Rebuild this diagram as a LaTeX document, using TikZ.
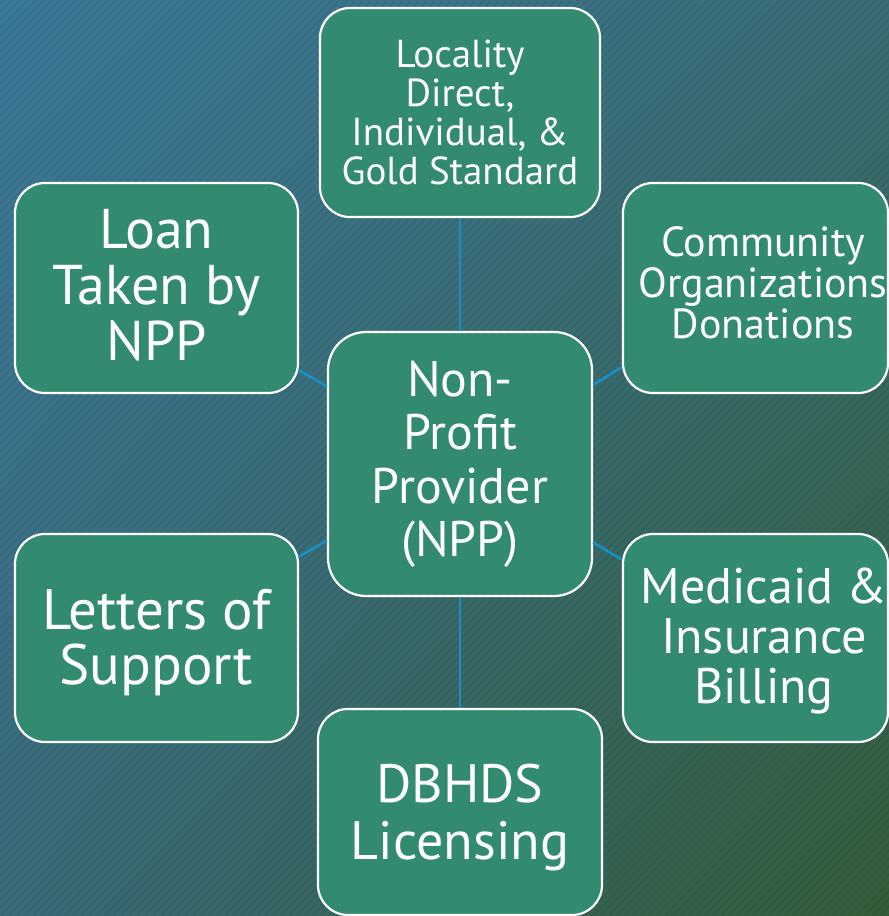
\documentclass[tikz,border=0pt]{standalone}
\usepackage{fontspec}
\setmainfont{PT Sans}
\usetikzlibrary{shadings}
\definecolor{boxfill}{RGB}{50,139,112}
\definecolor{linkc}{RGB}{24,143,200}
\definecolor{bgUL}{RGB}{60,122,155}
\definecolor{bgUR}{RGB}{58,110,118}
\definecolor{bgLL}{RGB}{58,108,122}
\definecolor{bgLR}{RGB}{52,94,58}
\begin{document}
\begin{tikzpicture}[x=1pt,y=-1pt,
  box/.style={draw=white, line width=2.2pt, fill=boxfill, rounded corners=30pt,
    text=white, align=center, inner sep=0pt},
  txt/.style={text=white, align=center, inner sep=0pt},
  link/.style={draw=linkc, line width=2.6pt}]
\useasboundingbox (0,0) rectangle (889,916);
\shade[upper left=bgUL, upper right=bgUR, lower left=bgLL, lower right=bgLR] (0,0) rectangle (889,916);
\begin{scope}
\clip (0,0) rectangle (889,916);
\foreach \i in {-920,-912,...,896}
  \draw[black, opacity=0.06, line width=2.5pt] (\i,916) -- (\i+916,0);
\end{scope}
\node[box, minimum width=280pt, minimum height=209pt,
  font=\fontsize{39}{39}\selectfont] (top) at (460,112.5)
  {Locality\\Direct,\\Individual, \&\\Gold Standard};
\node[box, minimum width=283pt, minimum height=210pt] (loan) at (156.5,288) {};
\node[txt, font=\fontsize{56}{56}\selectfont] (loant) at (156.5,285)
  {Loan\\Taken by\\NPP};
\node[box, minimum width=265pt, minimum height=210pt] (comm) at (755.5,288) {};
\node[txt, font=\fontsize{42}{41}\selectfont] (commt) at (763,283)
  {Community\\Organizations\\Donations};
\node[box, rounded corners=38pt, minimum width=264pt, minimum height=264pt,
  font=\fontsize{50}{53.5}\selectfont] (ctr) at (460,464)
  {Non-\\Profit\\Provider\\(NPP)};
\node[box, minimum width=283pt, minimum height=208pt] (lett) at (156.5,638) {};
\node[txt, font=\fontsize{57}{55}\selectfont] (lettt) at (156.5,643)
  {Letters of\\Support};
\node[box, minimum width=265pt, minimum height=208pt] (med) at (755.5,638) {};
\node[txt, font=\fontsize{50}{50}\selectfont] (medt) at (764,641)
  {Medicaid \&\\Insurance\\Billing};
\node[box, minimum width=284pt, minimum height=206pt] (dbh) at (460,812) {};
\node[txt, font=\fontsize{54}{57}\selectfont] (dbht) at (460,817)
  {DBHDS\\Licensing};
\draw[link] (ctr) -- (top);
\draw[link] (ctr) -- (loan);
\draw[link] (ctr) -- (comm);
\draw[link] (ctr) -- (lett);
\draw[link] (ctr) -- (med);
\draw[link] (ctr) -- (dbh);
\end{tikzpicture}
\end{document}
